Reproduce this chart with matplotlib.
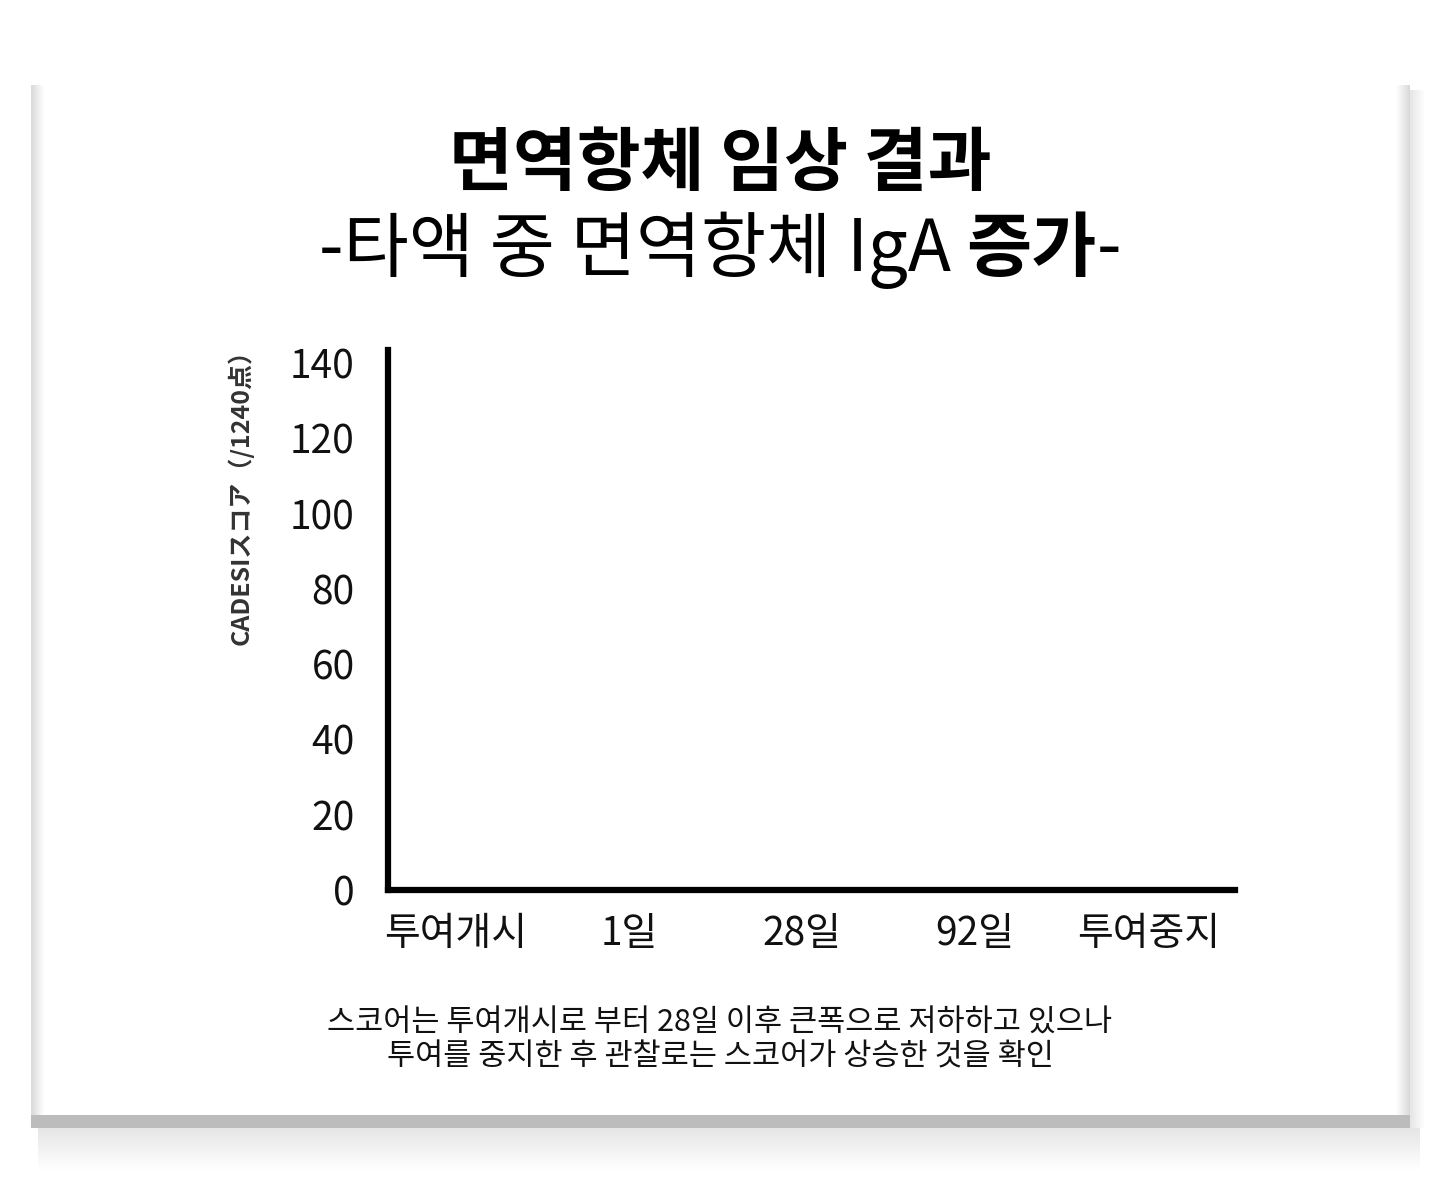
import matplotlib
matplotlib.use("Agg")
import matplotlib.pyplot as plt
import numpy as np

# ---- data ----
categories = ["투여개시", "1일", "28일", "92일", "투여중지"]
values = [0, 0, 0, 0, 0]          # no bars are visible in the reference
y_ticks = [0, 20, 40, 60, 80, 100, 120, 140]
title_main = "면역항체 임상 결과"
title_sub_parts = [("-타액 중 면역항체 IgA ", "normal"), ("증가", "bold"), ("-", "normal")]
y_label = "CADESIスコア（/1240点）"
caption = "스코어는 투여개시로 부터 28일 이후 큰폭으로 저하하고 있으나\n투여를 중지한 후 관찰로는 스코어가 상승한 것을 확인"

KR = ["Noto Sans CJK KR", "DejaVu Sans"]
JP = ["Noto Sans CJK JP", "DejaVu Sans"]
plt.rcParams["font.family"] = KR

W, H = 1440, 1200
fig = plt.figure(figsize=(W / 100, H / 100), dpi=100)
fig.patch.set_facecolor("white")

# ---- card background with shadow ----
bg = fig.add_axes([0, 0, 1, 1], zorder=-5)
bg.set_xlim(0, W)
bg.set_ylim(H, 0)
bg.axis("off")

def grad(ax, x0, x1, y0, y1, c0, c1, horizontal=True):
    n = 64
    t = np.linspace(0, 1, n)
    vals = c0 + (c1 - c0) * t
    img = vals[None, :] if horizontal else vals[:, None]
    rgb = np.dstack([img, img, img])
    ax.imshow(rgb, extent=(x0, x1, y1, y0), aspect="auto", interpolation="bilinear", zorder=1)

grad(bg, 38, 1420, 1128, 1170, 0.90, 1.0, horizontal=False)
grad(bg, 1410, 1425, 90, 1128, 0.90, 1.0, horizontal=True)
bg.add_patch(plt.Rectangle((31, 78), 1379, 1050, facecolor="white", edgecolor="none", zorder=2))
grad(bg, 31, 44, 85, 1118, 0.85, 1.0, horizontal=True)
grad(bg, 1396, 1410, 85, 1118, 1.0, 0.85, horizontal=True)
for im in bg.images:
    im.set_zorder(3)
bg.add_patch(plt.Rectangle((31, 1115), 1379, 13, facecolor="#bcbcbc", edgecolor="none", zorder=4))

# ---- main axes ----
ax = fig.add_axes([388 / W, 1 - 890 / H, (1235 - 388) / W, (890 - 350) / H])
ax.set_facecolor("none")
x = np.arange(len(categories))
ax.bar(x, values, width=0.6, color="#333333", linewidth=0)
ax.set_xlim(-0.39, 4.5)
ax.set_ylim(0, 143.5)
ax.set_xticks(x)
ax.set_xticklabels(categories, fontsize=28, color="#111111")
ax.set_yticks(y_ticks)
ax.set_yticklabels([str(v) for v in y_ticks], fontsize=28, color="#111111")
ax.tick_params(axis="both", length=0)
ax.tick_params(axis="x", pad=17)
ax.tick_params(axis="y", pad=24)
for s in ["top", "right"]:
    ax.spines[s].set_visible(False)
for s in ["left", "bottom"]:
    ax.spines[s].set_linewidth(4.5)
    ax.spines[s].set_color("black")
    ax.spines[s].set_capstyle("projecting")

# y label
fig.text(240 / W, 1 - 491 / H, y_label, rotation=90, ha="center", va="center",
         fontsize=18, fontweight="bold", color="#333333", family=JP)

# ---- titles ----
fig.text(0.5, 1 - 165 / H, title_main, ha="center", va="center",
         fontsize=50, fontweight="bold", color="black")

fig.canvas.draw()
r = fig.canvas.get_renderer()
texts = []
for s, w in title_sub_parts:
    t = fig.text(0, 1 - 250 / H, s, ha="left", va="center", fontsize=51,
                 fontweight=w, color="black")
    bb = t.get_window_extent(renderer=r)
    texts.append((t, bb.width))
total = sum(wd for _, wd in texts)
cur = (W - total) / 2
for t, wd in texts:
    t.set_x(cur / W)
    cur += wd

# ---- caption ----
fig.text(0.5, 1 - 1040 / H, caption, ha="center", va="center", fontsize=22,
         color="#111111", linespacing=1.15)

fig.savefig("out.png", dpi=100, facecolor="white")
